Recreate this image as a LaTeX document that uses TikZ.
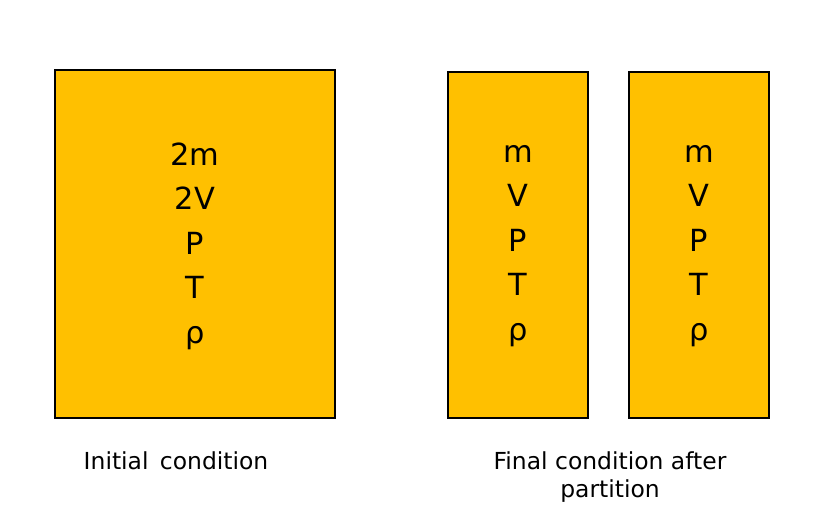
\documentclass[tikz,border=0pt]{standalone}
\usepackage{fontspec}
\setmainfont{DejaVu Sans}
\usetikzlibrary{positioning}
\definecolor{gasfill}{HTML}{FFC000}
\tikzset{vessel/.style={draw=black, line width=1.8pt, fill=gasfill},
         state/.style={align=center, font=\fontsize{26}{38}\selectfont},
         caption/.style={align=center, font=\fontsize{20}{24}\selectfont}}
\begin{document}
\begin{tikzpicture}[x=0.03cm, y=-0.03cm]
  \useasboundingbox (0,0) rectangle (837,524);
  % initial vessel
  \draw[vessel] (55,70) rectangle (335,418);
  \node[state] (init) at (195,246) {2m\\2V\\P\\T\\ρ};
  % two vessels after partition
  \draw[vessel] (448,72) rectangle (588,418);
  \node[state] (left) at (518,246) {m\\V\\P\\T\\ρ};
  \draw[vessel] (629,72) rectangle (769,418);
  \node[state] (right) at (699,246) {m\\V\\P\\T\\ρ};
  % captions
  \node[caption] (capinit) at (176,461) {Initial\, condition};
  \node[caption] (capfinal) at (610,477) {Final condition after\\partition};
\end{tikzpicture}
\end{document}
